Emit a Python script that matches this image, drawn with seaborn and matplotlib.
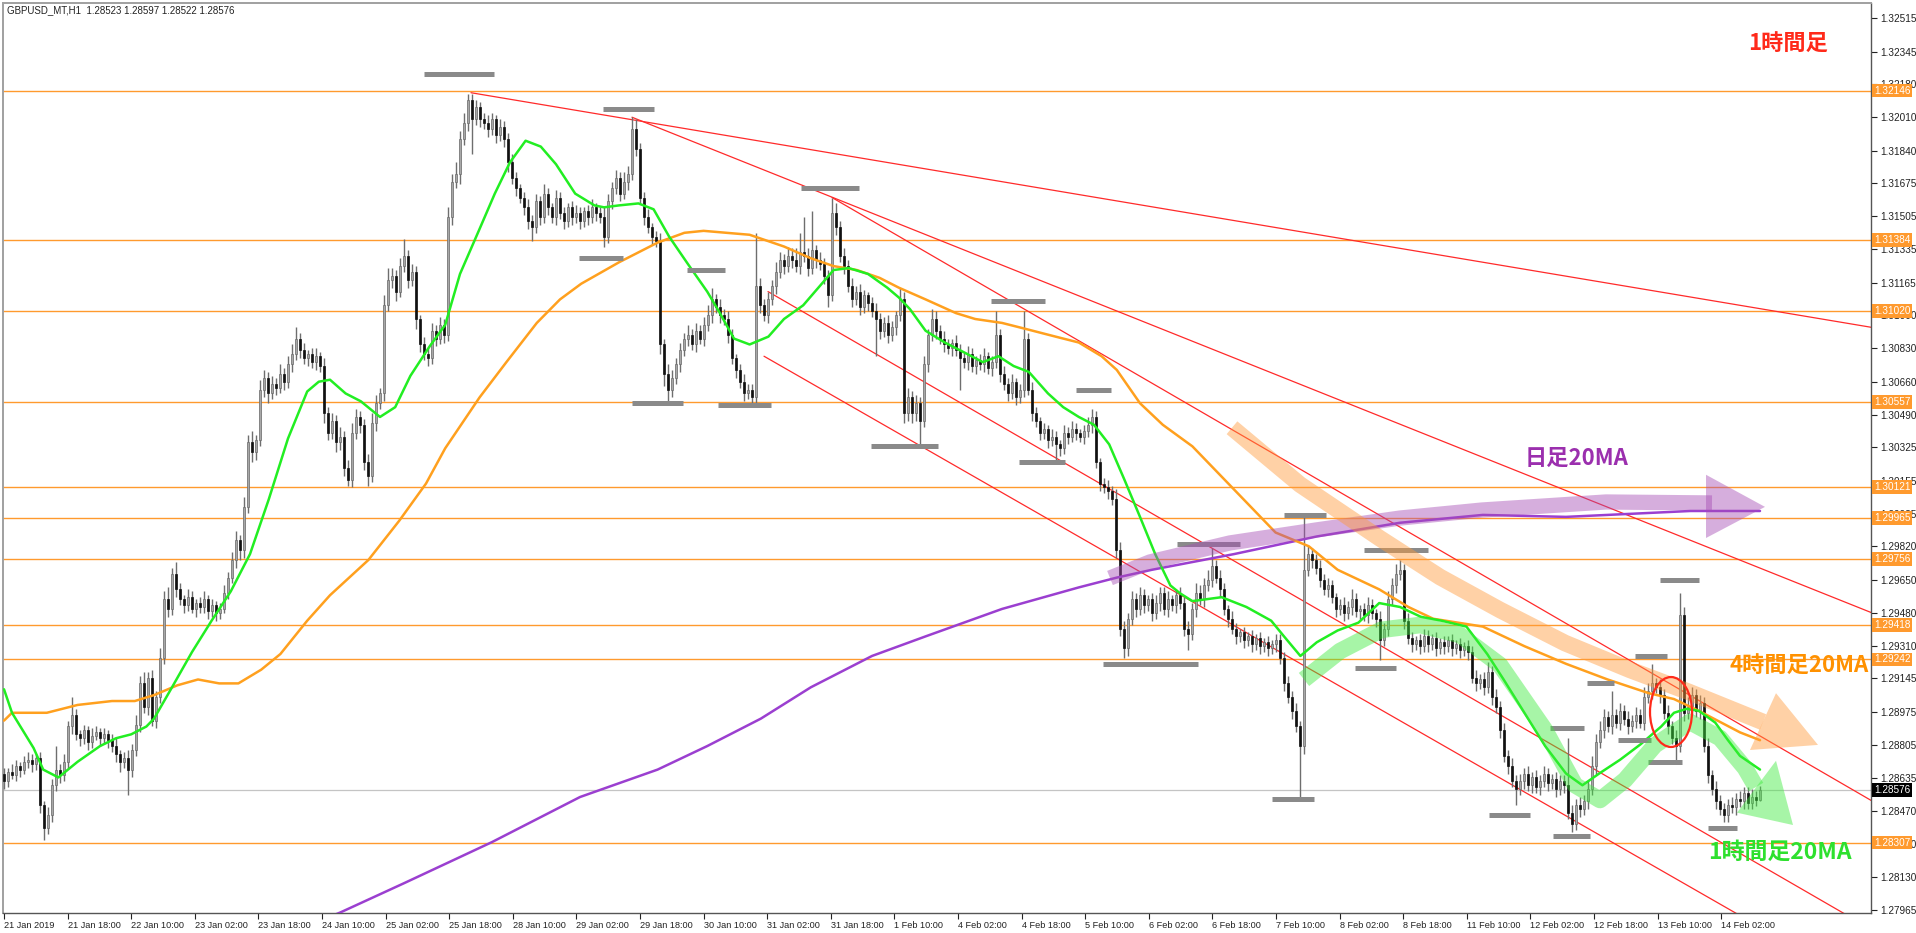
import matplotlib
matplotlib.use("Agg")
import matplotlib.pyplot as plt
from matplotlib.patches import Ellipse, Polygon
import numpy as np
import pandas as pd
import seaborn as sns

sns.set_style("white")
plt.rcParams['font.family'] = ['Liberation Sans', 'Noto Sans CJK JP', 'DejaVu Sans']

# ---------------- data (prices: 1.2 + pips/10000) ----------------
header_text = "GBPUSD_MT,H1  1.28523 1.28597 1.28522 1.28576"
first_open_pips = 866
close_pips = [
    862, 867, 865, 870, 868, 872, 873, 871, 874, 850, 838, 845, 860, 868, 865, 872, 890, 896, 886, 884,
    888, 882, 885, 887, 884, 886, 883, 880, 876, 872, 874, 868, 878, 891, 912, 900, 915, 893, 905, 925,
    955, 950, 968, 960, 955, 952, 956, 950, 953, 951, 955, 949, 952, 948, 950, 958, 966, 975, 985, 980,
    1002, 1035, 1030, 1036, 1062, 1068, 1060, 1065, 1063, 1070, 1066, 1075, 1080, 1088, 1082, 1078, 1080, 1076, 1079, 1074,
    1050, 1040, 1046, 1035, 1038, 1022, 1016, 1040, 1048, 1044, 1025, 1018, 1045, 1055, 1060, 1105, 1118, 1120, 1112, 1125,
    1130, 1118, 1122, 1098, 1085, 1080, 1078, 1092, 1088, 1095, 1090, 1150, 1168, 1172, 1190, 1198, 1210, 1200, 1206, 1200,
    1198, 1195, 1200, 1192, 1196, 1190, 1178, 1170, 1165, 1160, 1155, 1148, 1145, 1158, 1150, 1162, 1155, 1150, 1160, 1152,
    1148, 1155, 1150, 1152, 1148, 1153, 1150, 1155, 1152, 1150, 1140, 1158, 1165, 1170, 1162, 1168, 1172, 1195, 1185, 1160,
    1150, 1145, 1140, 1138, 1085, 1070, 1062, 1068, 1075, 1082, 1088, 1090, 1085, 1092, 1088, 1095, 1100, 1108, 1104, 1100,
    1098, 1090, 1078, 1072, 1066, 1060, 1062, 1058, 1115, 1105, 1100, 1108, 1115, 1122, 1128, 1125, 1130, 1128, 1125, 1132,
    1130, 1124, 1133, 1128, 1126, 1120, 1110, 1152, 1145, 1130, 1125, 1115, 1108, 1112, 1104, 1110, 1106, 1102, 1098, 1092,
    1096, 1090, 1094, 1100, 1108, 1050, 1058, 1050, 1055, 1046, 1075, 1090, 1098, 1092, 1088, 1085, 1083, 1086, 1082, 1078,
    1076, 1080, 1074, 1077, 1075, 1079, 1073, 1076, 1090, 1070, 1065, 1060, 1066, 1058, 1062, 1088, 1062, 1050, 1046, 1040,
    1042, 1036, 1038, 1034, 1032, 1040, 1038, 1042, 1040, 1038, 1041, 1044, 1048, 1025, 1014, 1012, 1010, 1006, 980, 940,
    930, 945, 955, 950, 957, 952, 955, 948, 953, 958, 950, 955, 952, 957, 953, 940, 937, 950, 958, 955,
    962, 965, 972, 966, 960, 950, 945, 940, 936, 938, 934, 936, 932, 935, 931, 933, 930, 932, 934, 925,
    912, 905, 898, 890, 880, 970, 978, 975, 971, 965, 960, 962, 956, 950, 952, 948, 951, 955, 949, 950,
    947, 952, 948, 945, 934, 940, 955, 962, 968, 970, 944, 935, 932, 934, 931, 936, 932, 935, 930, 933,
    931, 934, 930, 932, 929, 931, 928, 915, 912, 914, 910, 918, 905, 900, 888, 875, 870, 862, 858, 862,
    866, 860, 864, 859, 862, 866, 861, 863, 858, 862, 860, 846, 840, 850, 848, 852, 858, 870, 882, 888,
    895, 890, 896, 892, 898, 894, 890, 893, 896, 892, 905, 908, 912, 910, 906, 897, 890, 884, 880, 947,
    897, 900, 906, 898, 902, 880, 865, 858, 852, 848, 845, 850, 849, 853, 852, 856, 851, 854, 852.3, 857.6,
]
upper_wick_pips = [
    3, 2, 4, 3, 2, 3, 4, 3, 2, 3, 2, 4, 3, 12, 3, 4, 3, 9, 3, 2,
    3, 2, 4, 3, 2, 3, 2, 3, 4, 2, 3, 4, 3, 5, 4, 6, 3, 4, 3, 5,
    4, 6, 3, 6, 3, 2, 4, 3, 2, 3, 4, 2, 3, 2, 3, 4, 3, 4, 5, 3,
    5, 4, 6, 3, 5, 4, 3, 4, 3, 5, 3, 4, 5, 6, 3, 4, 2, 3, 4, 2,
    4, 3, 4, 3, 5, 3, 4, 5, 4, 3, 3, 4, 5, 4, 3, 5, 6, 4, 3, 4,
    9, 3, 4, 3, 2, 4, 3, 4, 3, 4, 3, 5, 4, 6, 4, 5, 3, 3, 4, 3,
    3, 4, 3, 2, 4, 3, 3, 4, 3, 2, 3, 4, 3, 4, 3, 5, 3, 2, 4, 3,
    3, 2, 3, 4, 3, 2, 3, 4, 2, 3, 5, 4, 3, 4, 3, 5, 4, 6, 5, 3,
    3, 4, 2, 3, 4, 3, 5, 4, 3, 4, 3, 5, 3, 4, 3, 4, 5, 6, 3, 4,
    3, 4, 3, 2, 3, 4, 3, 3, 27, 4, 3, 4, 3, 5, 4, 3, 5, 4, 6, 10,
    18, 4, 20, 3, 4, 3, 3, 8, 5, 3, 4, 3, 4, 3, 4, 3, 2, 3, 4, 3,
    3, 4, 3, 2, 6, 4, 5, 3, 4, 3, 4, 3, 5, 4, 3, 4, 3, 2, 4, 3,
    3, 4, 3, 2, 3, 4, 2, 3, 12, 3, 4, 3, 4, 2, 3, 14, 3, 4, 3, 2,
    3, 2, 4, 3, 2, 4, 3, 4, 3, 2, 3, 4, 4, 3, 2, 3, 4, 3, 5, 4,
    4, 3, 4, 3, 4, 3, 2, 3, 4, 3, 3, 4, 2, 3, 4, 3, 4, 3, 5, 4,
    4, 5, 9, 3, 4, 3, 2, 4, 3, 2, 3, 2, 3, 2, 3, 2, 3, 2, 3, 3,
    3, 4, 3, 4, 3, 27, 4, 3, 3, 4, 3, 4, 3, 2, 3, 4, 3, 5, 3, 2,
    3, 4, 3, 2, 4, 3, 4, 4, 5, 5, 3, 4, 3, 2, 3, 4, 3, 2, 3, 2,
    3, 2, 3, 2, 3, 2, 3, 3, 4, 3, 4, 5, 3, 4, 3, 4, 3, 4, 3, 4,
    3, 4, 3, 4, 3, 4, 3, 3, 4, 3, 3, 24, 4, 3, 4, 3, 4, 5, 4, 5,
    4, 3, 12, 3, 4, 3, 4, 3, 4, 3, 5, 4, 10, 3, 4, 3, 4, 3, 4, 11,
    4, 5, 4, 3, 4, 3, 4, 3, 4, 3, 3, 3, 4, 3, 4, 3, 3, 4, 3, 2.1,
]
lower_wick_pips = [
    4, 3, 2, 3, 4, 2, 3, 4, 3, 4, 6, 3, 4, 3, 4, 3, 3, 4, 3, 4,
    3, 4, 3, 2, 4, 3, 4, 3, 4, 5, 3, 13, 4, 3, 4, 3, 4, 3, 4, 3,
    3, 4, 3, 4, 3, 4, 3, 2, 4, 3, 3, 4, 3, 4, 3, 2, 3, 3, 4, 5,
    4, 3, 5, 4, 3, 4, 5, 3, 4, 3, 4, 3, 4, 3, 4, 3, 4, 3, 4, 3,
    5, 4, 3, 5, 4, 4, 3, 4, 3, 4, 4, 5, 3, 4, 3, 4, 3, 4, 5, 3,
    3, 4, 3, 5, 4, 3, 4, 3, 4, 3, 4, 3, 4, 3, 5, 3, 4, 18, 3, 4,
    3, 4, 3, 4, 3, 4, 5, 3, 4, 3, 4, 4, 7, 3, 4, 3, 4, 3, 4, 3,
    4, 3, 4, 3, 4, 3, 4, 3, 4, 3, 5, 3, 4, 3, 4, 3, 4, 3, 4, 3,
    4, 3, 4, 3, 5, 6, 7, 4, 3, 4, 3, 4, 3, 4, 3, 4, 3, 4, 3, 4,
    3, 4, 3, 4, 3, 4, 3, 5, 3, 4, 3, 4, 3, 4, 3, 4, 3, 4, 3, 4,
    3, 4, 3, 4, 3, 4, 6, 3, 4, 3, 4, 3, 4, 3, 4, 3, 4, 3, 19, 4,
    3, 4, 3, 4, 3, 5, 4, 5, 4, 12, 3, 4, 3, 4, 3, 4, 3, 4, 3, 16,
    3, 4, 3, 4, 3, 4, 3, 4, 3, 4, 3, 4, 3, 4, 3, 4, 3, 4, 3, 4,
    3, 4, 3, 9, 4, 3, 4, 3, 4, 3, 4, 3, 4, 3, 4, 3, 4, 3, 4, 4,
    5, 4, 3, 4, 3, 4, 3, 4, 3, 4, 3, 4, 3, 4, 3, 4, 8, 3, 4, 3,
    4, 3, 4, 3, 4, 3, 4, 3, 4, 3, 4, 3, 4, 3, 4, 3, 4, 3, 4, 3,
    4, 3, 4, 3, 26, 4, 3, 4, 3, 4, 3, 4, 3, 4, 3, 4, 3, 4, 3, 4,
    3, 4, 3, 4, 10, 3, 4, 3, 4, 3, 4, 3, 4, 3, 4, 3, 4, 3, 4, 3,
    4, 3, 4, 3, 4, 3, 4, 3, 4, 3, 4, 3, 4, 3, 4, 3, 4, 3, 8, 3,
    4, 3, 4, 3, 4, 3, 4, 3, 4, 3, 4, 3, 4, 3, 4, 3, 4, 3, 4, 3,
    4, 3, 4, 3, 4, 3, 4, 3, 4, 3, 4, 3, 4, 3, 4, 3, 4, 3, 7, 3,
    4, 3, 4, 3, 4, 3, 4, 3, 4, 3, 4, 4, 3, 4, 3, 4, 3, 3, 3, 0.1,
]

x_tick_labels = ["21 Jan 2019", "21 Jan 18:00", "22 Jan 10:00", "23 Jan 02:00", "23 Jan 18:00",
                 "24 Jan 10:00", "25 Jan 02:00", "25 Jan 18:00", "28 Jan 10:00", "29 Jan 02:00",
                 "29 Jan 18:00", "30 Jan 10:00", "31 Jan 02:00", "31 Jan 18:00", "1 Feb 10:00",
                 "4 Feb 02:00", "4 Feb 18:00", "5 Feb 10:00", "6 Feb 02:00", "6 Feb 18:00",
                 "7 Feb 10:00", "8 Feb 02:00", "8 Feb 18:00", "11 Feb 10:00", "12 Feb 02:00",
                 "12 Feb 18:00", "13 Feb 10:00", "14 Feb 02:00"]
label_step = 15.9   # one label every 16 hourly bars
y_tick_values = [1.32515, 1.32345, 1.32180, 1.32010, 1.31840, 1.31675, 1.31505, 1.31335, 1.31165,
                 1.31000, 1.30830, 1.30660, 1.30490, 1.30325, 1.30155, 1.29985, 1.29820, 1.29650,
                 1.29480, 1.29310, 1.29145, 1.28975, 1.28805, 1.28635, 1.28470, 1.28300, 1.28130,
                 1.27965]
level_prices = [1.32146, 1.31384, 1.31020, 1.30557, 1.30121, 1.29965, 1.29756, 1.29418, 1.29242, 1.28307]
current_price = 1.28576

green_ma_bar = [0, 2, 7.4, 9.8, 13.6, 18.4, 24, 28, 31.8, 35.6, 37.5, 42, 47, 51.9, 56.7, 61.5, 66.2, 71,
                75.8, 78.7, 81.5, 85.4, 89.2, 94, 97.8, 101.6, 106.4, 110.3, 114, 118.9, 122.7, 126.5,
                130.4, 134.2, 138, 142.8, 147.6, 150, 153.8, 158.6, 162.4, 166.3, 171, 175.8, 178.7,
                182.5, 186.4, 191.1, 195, 199.8, 203.6, 207.4, 211.2, 216, 220.8, 223.7, 226.5, 230.4,
                235.2, 240, 244.7, 248.6, 252.4, 256.2, 261, 264.8, 268.7, 272.5, 276.3, 280.1, 284,
                287.8, 291.6, 294, 297.1, 304.4, 310.6, 316.8, 320, 324.1, 328.2, 333.4, 338.6, 343.8,
                349, 354.2, 359.4, 365.6, 370.8, 374.9, 380.1, 385.3, 390.5, 394.6, 398.8, 404, 409.2,
                414.3, 417.5, 420.6, 423.7, 427.8, 431, 434, 439]
green_ma_val = [1.2909, 1.2897, 1.2879, 1.2868, 1.2864, 1.2872, 1.2880, 1.2884, 1.2886, 1.2890, 1.2894,
                1.2910, 1.2928, 1.2944, 1.2959, 1.2978, 1.3006, 1.3037, 1.3061, 1.3066, 1.3067, 1.3060,
                1.3056, 1.3048, 1.3053, 1.3069, 1.3084, 1.3095, 1.3121, 1.3144, 1.3162, 1.3178, 1.3189,
                1.3186, 1.3177, 1.3162, 1.3156, 1.3155, 1.3156, 1.3157, 1.3154, 1.3140, 1.3126, 1.3112,
                1.3102, 1.3088, 1.3085, 1.3089, 1.3098, 1.3105, 1.3114, 1.3123, 1.3124, 1.3121, 1.3114,
                1.3109, 1.3103, 1.3092, 1.3086, 1.3081, 1.3076, 1.3079, 1.3074, 1.3071, 1.3060, 1.3053,
                1.3048, 1.3044, 1.3034, 1.3016, 1.2997, 1.2978, 1.2962, 1.2958, 1.2954, 1.2956, 1.2951,
                1.2944, 1.2936, 1.2926, 1.2933, 1.2939, 1.2943, 1.2953, 1.2951, 1.2946, 1.2944, 1.2941,
                1.2927, 1.2914, 1.2897, 1.2880, 1.2866, 1.2860, 1.2866, 1.2873, 1.2881, 1.2890, 1.2897,
                1.2899, 1.2898, 1.2892, 1.2883, 1.2875, 1.2868]
orange_ma_bar = [0, 2, 10.7, 18.4, 27, 32.7, 37.5, 43.3, 48.5, 53.8, 58.6, 64.3, 69.1, 75.8, 81.5, 91.1,
                 98.8, 105.5, 110.3, 118.9, 125.6, 133.2, 139, 144.3, 153.8, 163.4, 170.1, 174.9, 180.6,
                 186.4, 195, 201.7, 207.4, 213.2, 218.9, 223.7, 230.4, 238, 242.8, 249.5, 255.3, 262.9,
                 268.7, 274.4, 278.2, 284, 289.7, 297.1, 307.5, 317.9, 326.2, 333.4, 343.8, 351.1,
                 357.3, 369.7, 380.1, 390.5, 400.9, 411.2, 417.5, 423.7, 434, 439]
orange_ma_val = [1.2893, 1.2897, 1.2897, 1.2901, 1.2903, 1.2903, 1.2906, 1.2911, 1.2914, 1.2912, 1.2912,
                 1.2919, 1.2927, 1.2944, 1.2957, 1.2975, 1.2995, 1.3014, 1.3032, 1.3058, 1.3076, 1.3096,
                 1.3108, 1.3116, 1.3127, 1.3137, 1.3142, 1.3143, 1.3142, 1.3141, 1.3135, 1.3129, 1.3125,
                 1.3123, 1.3119, 1.3114, 1.3108, 1.3101, 1.3098, 1.3096, 1.3093, 1.3089, 1.3086, 1.3079,
                 1.3072, 1.3055, 1.3044, 1.3033, 1.3011, 1.2989, 1.2982, 1.2970, 1.2960, 1.2951, 1.2945,
                 1.2941, 1.2931, 1.2922, 1.2914, 1.2907, 1.2904, 1.2898, 1.2887, 1.2883]
purple_ma_bar = [78, 84, 100, 122, 144, 163.4, 175.8, 189.2, 201.7, 217, 230.4, 249.5, 268.7, 278.2, 287,
                 307.5, 328.2, 349, 369.7, 390.5, 400.9, 421.6, 434, 439]
purple_ma_val = [1.2790, 1.2795, 1.2810, 1.2831, 1.2854, 1.2868, 1.2880, 1.2894, 1.2910, 1.2926, 1.2936,
                 1.2950, 1.2961, 1.2966, 1.2970, 1.2978, 1.2987, 1.2994, 1.2998, 1.2997, 1.2998, 1.3000,
                 1.3000, 1.3000]

# red trend lines: (bar0, price0, bar1, price1)
trend_lines = [(116.75, 1.32135, 467, 1.30937), (157, 1.3201, 467, 1.2948), (207, 1.3160, 467, 1.2852),
               (191, 1.3112, 467, 1.27863), (190, 1.3079, 467, 1.27549)]
# grey swing markers: (bar_start, bar_end, price)
swing_marks = [(105, 122.5, 1.3223), (149.75, 162.5, 1.3205), (143.75, 154.75, 1.3129), (157, 169.75, 1.3055),
               (170.75, 180.25, 1.3123), (178.5, 191.75, 1.3054), (199.25, 213.75, 1.3165),
               (216.75, 233.5, 1.3033), (246.75, 260.25, 1.3107), (253.75, 265.25, 1.3025),
               (268, 276.75, 1.3062), (274.75, 298.5, 1.2922), (293.25, 309, 1.2983), (320, 330.5, 1.2998),
               (340, 356, 1.2980), (317, 327.5, 1.2853), (337.75, 348, 1.2920), (386.5, 395, 1.2889),
               (371.25, 381.5, 1.2845), (387.25, 396.5, 1.2834), (395.75, 402.5, 1.2912),
               (403.5, 411.75, 1.2883), (407.75, 415.75, 1.2926), (411, 419.5, 1.2872),
               (414, 423.75, 1.2965), (426, 433.25, 1.2838)]
# hand-drawn arrows (bar, price)
purple_arrow_bar = [276.5, 286.5, 306.5, 328, 349, 369.5, 400.5, 427]
purple_arrow_val = [1.29658, 1.29740, 1.29837, 1.29903, 1.29964, 1.30005, 1.30046, 1.30041]
purple_head = [(425.5, 1.30185), (425.5, 1.29862), (440.25, 1.30021)]
orange_arrow_bar = [307, 324, 344, 359, 374, 390.25, 406.5, 421.25, 439.75]
orange_arrow_val = [1.30425, 1.30135, 1.29860, 1.29663, 1.29495, 1.29326, 1.29189, 1.29076, 1.28923]
orange_head = [(436.5, 1.28780), (443, 1.29070), (453.5, 1.28806)]
green_arrow_bar = [325, 334, 344.25, 354, 364, 374, 385.25, 392.75, 399, 405.25, 412.75, 421.5, 429, 435.25, 438]
green_arrow_val = [1.29140, 1.29285, 1.29393, 1.29418, 1.29367, 1.29214, 1.28882, 1.28601, 1.28525, 1.28627,
                   1.28805, 1.28923, 1.28841, 1.28688, 1.28591]
green_head = [(433.25, 1.28460), (443, 1.28725), (447.25, 1.28397)]
circle_center = (416.75, 1.28974)
circle_size = (10.5, 0.00357)

# ---------------- figure ----------------
W, H = 1916, 933
fig = plt.figure(figsize=(W / 100, H / 100), dpi=100)
L, R, T, B = 3, 1871, 3, 913
ax = fig.add_axes([L / W, 1 - B / H, (R - L) / W, (B - T) / H])
ax.set_xlim(-0.25, 466.75)
ax.set_ylim(1.27948, 1.32593)

n = min(len(close_pips), len(upper_wick_pips), len(lower_wick_pips))
df = pd.DataFrame({"bar": np.arange(n),
                   "close": 1.2 + np.array(close_pips[:n], float) / 1e4})
df["open"] = np.r_[1.2 + first_open_pips / 1e4, df["close"].values[:-1]]
top = np.maximum(df["open"], df["close"])
bot = np.minimum(df["open"], df["close"])
df["high"] = top + np.array(upper_wick_pips[:n], float) / 1e4
df["low"] = bot - np.array(lower_wick_pips[:n], float) / 1e4

# level lines
for p in level_prices:
    ax.axhline(p, color="#FF9A2E", lw=1.0, zorder=1)
ax.axhline(current_price, color="#C4C4C4", lw=0.9, zorder=1)

# trend lines
for b0, p0, b1, p1 in trend_lines:
    ax.plot([b0, b1], [p0, p1], color="#FF2A2A", lw=0.9, zorder=2)

# candles
ax.vlines(df["bar"], df["low"], df["high"], color="#6E6E6E", lw=1.0, zorder=3)
bull = df["close"] >= df["open"]
height = np.maximum(top - bot, 0.00003)
ax.bar(df["bar"][bull], height[bull], bottom=bot[bull], width=0.72, color="#A8A8A8",
       edgecolor="#6A6A6A", lw=0.5, zorder=4)
ax.bar(df["bar"][~bull], height[~bull], bottom=bot[~bull], width=0.72, color="#111111",
       edgecolor="#111111", lw=0.5, zorder=4)

# moving averages
sns.lineplot(x=purple_ma_bar, y=purple_ma_val, ax=ax, color="#9B3FD0", lw=1.8, zorder=5,
             estimator=None, sort=False)
sns.lineplot(x=orange_ma_bar, y=orange_ma_val, ax=ax, color="#FFA01E", lw=1.8, zorder=5,
             estimator=None, sort=False)
sns.lineplot(x=green_ma_bar, y=green_ma_val, ax=ax, color="#22EE22", lw=1.8, zorder=6,
             estimator=None, sort=False)

# swing markers
for b0, b1, p in swing_marks:
    ax.plot([b0, b1], [p, p], color="#8A8A8A", lw=3.6, solid_capstyle="butt", zorder=7)

# pale arrows
def pale_arrow(xs, ys, head, color, lw):
    ax.plot(xs, ys, color=color, alpha=0.45, lw=lw, solid_capstyle="butt",
            solid_joinstyle="round", zorder=8)
    ax.add_patch(Polygon(head, closed=True, facecolor=color, edgecolor="none", alpha=0.45, zorder=8))

pale_arrow(purple_arrow_bar, purple_arrow_val, purple_head, "#A64DB5", 11)
pale_arrow(orange_arrow_bar, orange_arrow_val, orange_head, "#FF9A3A", 12)
pale_arrow(green_arrow_bar, green_arrow_val, green_head, "#3DEB3D", 12)

ax.add_patch(Ellipse(circle_center, circle_size[0], circle_size[1], facecolor="none",
                     edgecolor="#FF2A1A", lw=1.6, zorder=9))

# axes styling
ax.yaxis.tick_right()
ax.set_yticks(y_tick_values)
ax.set_yticklabels([f"{v:.5f}" for v in y_tick_values])
ax.set_xticks([i * label_step for i in range(len(x_tick_labels))])
ax.set_xticklabels(x_tick_labels, ha="left")
ax.tick_params(axis="y", which="both", right=True, left=False, length=4, width=0.8, pad=3,
               labelsize=7.2, colors="#222222", direction="out")
ax.tick_params(axis="x", which="both", bottom=True, length=4, width=0.8, pad=2,
               labelsize=6.6, colors="#222222", direction="out")
for s in ["left", "top"]:
    ax.spines[s].set_color("#A0A0A0")
    ax.spines[s].set_linewidth(1.4)
for s in ["right", "bottom"]:
    ax.spines[s].set_color("#555555")
    ax.spines[s].set_linewidth(1.0)
ax.set_xlabel("")
ax.set_ylabel("")
ax.grid(False)

# price labels on the right axis
ytr = ax.get_yaxis_transform()
for p in level_prices:
    ax.text(1.0015, p, f"{p:.5f}", transform=ytr, ha="left", va="center", fontsize=7.2,
            color="white", zorder=20, clip_on=False,
            bbox=dict(boxstyle="square,pad=0.18", facecolor="#FF9A2E", edgecolor="none"))
ax.text(1.0015, current_price, f"{current_price:.5f}", transform=ytr, ha="left", va="center",
        fontsize=7.2, color="white", zorder=20, clip_on=False,
        bbox=dict(boxstyle="square,pad=0.18", facecolor="#000000", edgecolor="none"))

# header & annotations
fig.text(7 / W, 1 - 10 / H, header_text, fontsize=7, color="#222222", ha="left", va="center")
cjk = ["Noto Sans CJK JP", "DejaVu Sans"]
fig.text(1748 / W, 1 - 44 / H, "1時間足", fontsize=16, fontweight="bold", color="#FF2A1A",
         ha="left", va="center", family=cjk)
fig.text(1525 / W, 1 - 458 / H, "日足20MA", fontsize=16, fontweight="bold", color="#9B2FAE",
         ha="left", va="center", family=cjk)
fig.text(1729 / W, 1 - 666 / H, "4時間足20MA", fontsize=16, fontweight="bold", color="#FF9100",
         ha="left", va="center", family=cjk)
fig.text(1708 / W, 1 - 852 / H, "1時間足20MA", fontsize=16.5, fontweight="bold", color="#2EE02E",
         ha="left", va="center", family=cjk)

fig.savefig("out.png", dpi=100, facecolor="white")
